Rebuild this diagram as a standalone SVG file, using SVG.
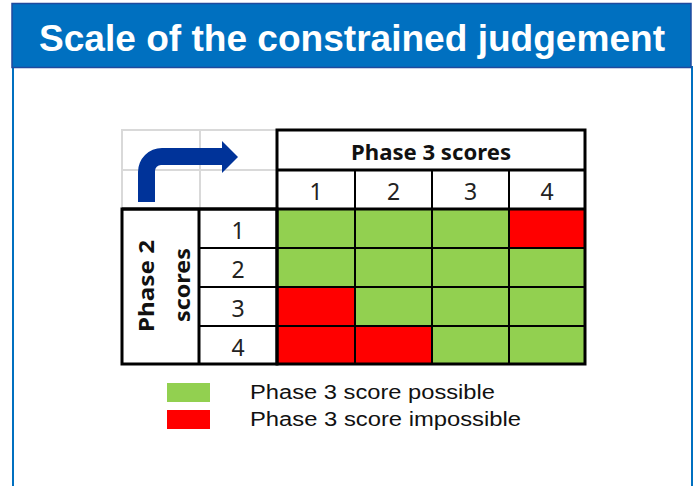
<svg xmlns="http://www.w3.org/2000/svg" width="694" height="486" viewBox="0 0 694 486">
<style>
.grid{stroke:#000;fill:none}
.thin{stroke-width:2}
.thick{stroke-width:3}
.num{font-family:"Noto Sans","Open Sans",sans-serif;font-size:23px;fill:#222;text-anchor:middle}
.hdr{font-family:"Noto Sans","Open Sans",sans-serif;font-weight:bold;font-size:22px;fill:#111;text-anchor:middle}
.leg{font-family:"Liberation Sans",Arial,sans-serif;font-size:20px;fill:#111}
.g{fill:#92D050}
.r{fill:#FF0000}
</style>
<rect width="694" height="486" fill="#fff"/>
<g id="frame">
<line x1="13" y1="66" x2="13" y2="486" stroke="#0070C0" stroke-width="2"/>
<line x1="692" y1="66" x2="692" y2="486" stroke="#0070C0" stroke-width="2"/>
<rect x="12" y="3.5" width="679" height="64" fill="#0070C0" stroke="#1F4A9E" stroke-width="1.5"/>
<text x="352" y="51" font-family="'Liberation Sans',Arial,sans-serif" font-weight="bold" font-size="37" fill="#fff" text-anchor="middle" textLength="626" lengthAdjust="spacingAndGlyphs">Scale of the constrained judgement</text>
</g>
<g id="corner">
<rect x="122" y="130" width="155" height="79" fill="none" stroke="#D9D9D9" stroke-width="2"/>
<line x1="200" y1="130" x2="200" y2="209" stroke="#D9D9D9" stroke-width="2"/>
<line x1="122" y1="170" x2="277" y2="170" stroke="#D9D9D9" stroke-width="2"/>
<path d="M138,202 L138,172 A24,24 0 0 1 162,148 L222,148 L222,141 L238,157 L222,173 L222,165 L161,165 A6,6 0 0 0 155,171 L155,202 Z" fill="#003399"/>
</g>
<g id="cells">
<rect class="g" x="277" y="209" width="78" height="39"/>
<rect class="g" x="355" y="209" width="77" height="39"/>
<rect class="g" x="432" y="209" width="77" height="39"/>
<rect class="r" x="509" y="209" width="76" height="39"/>
<rect class="g" x="277" y="248" width="78" height="39"/>
<rect class="g" x="355" y="248" width="77" height="39"/>
<rect class="g" x="432" y="248" width="77" height="39"/>
<rect class="g" x="509" y="248" width="76" height="39"/>
<rect class="r" x="277" y="287" width="78" height="39"/>
<rect class="g" x="355" y="287" width="77" height="39"/>
<rect class="g" x="432" y="287" width="77" height="39"/>
<rect class="g" x="509" y="287" width="76" height="39"/>
<rect class="r" x="277" y="326" width="78" height="38"/>
<rect class="r" x="355" y="326" width="77" height="38"/>
<rect class="g" x="432" y="326" width="77" height="38"/>
<rect class="g" x="509" y="326" width="76" height="38"/>
</g>
<g id="gridlines">
<line class="grid thin" x1="355" y1="170" x2="355" y2="364"/>
<line class="grid thin" x1="432" y1="170" x2="432" y2="364"/>
<line class="grid thin" x1="509" y1="170" x2="509" y2="364"/>
<line class="grid thin" x1="199" y1="248" x2="585" y2="248"/>
<line class="grid thin" x1="199" y1="287" x2="585" y2="287"/>
<line class="grid thin" x1="199" y1="326" x2="585" y2="326"/>
<line class="grid thick" x1="277" y1="170" x2="585" y2="170"/>
<rect class="grid thick" x="277" y="130" width="308" height="234"/>
<line class="grid thick" x1="122" y1="209" x2="585" y2="209"/>
<rect class="grid thick" x="122" y="209" width="155" height="155"/>
<line class="grid thick" x1="199" y1="209" x2="199" y2="364"/>
</g>
<g id="labels">
<text class="hdr" x="431" y="160" textLength="160" lengthAdjust="spacingAndGlyphs">Phase 3 scores</text>
<text class="num" x="316" y="200">1</text>
<text class="num" x="393.5" y="200">2</text>
<text class="num" x="470.5" y="200">3</text>
<text class="num" x="547" y="200">4</text>
<text class="num" x="238" y="239">1</text>
<text class="num" x="238" y="278">2</text>
<text class="num" x="238" y="317">3</text>
<text class="num" x="238" y="356">4</text>
<text class="hdr" transform="translate(154,286) rotate(-90)" font-size="24" textLength="92" lengthAdjust="spacingAndGlyphs">Phase 2</text>
<text class="hdr" transform="translate(190,285) rotate(-90)" font-size="24" textLength="74" lengthAdjust="spacingAndGlyphs">scores</text>
</g>
<g id="legend">
<rect class="g" x="167" y="383" width="43" height="19"/>
<rect class="r" x="167" y="410" width="43" height="19"/>
<text class="leg" x="250" y="399" textLength="245" lengthAdjust="spacingAndGlyphs">Phase 3 score possible</text>
<text class="leg" x="250" y="426" textLength="271" lengthAdjust="spacingAndGlyphs">Phase 3 score impossible</text>
</g>
</svg>
